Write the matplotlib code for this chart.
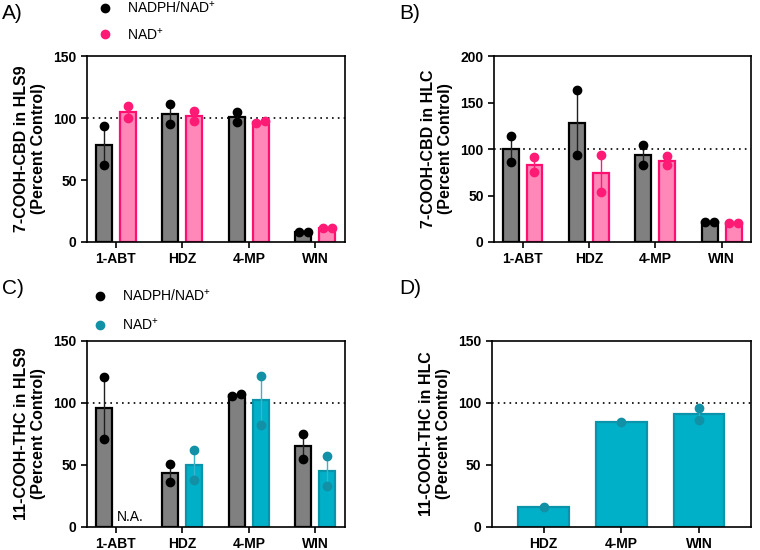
import numpy as np
import matplotlib
matplotlib.use("Agg")
import matplotlib.pyplot as plt
from matplotlib.lines import Line2D

plt.rcParams['font.family'] = ['Liberation Sans', 'DejaVu Sans']
plt.rcParams['mathtext.default'] = 'regular'

# Data (percent of control, two replicates each)
cats_abcd = ["1-ABT", "HDZ", "4-MP", "WIN"]
cats_d = ["HDZ", "4-MP", "WIN"]

a_nadph = [[94, 62], [111, 95], [105, 97], [8, 8]]
a_nad = [[110, 100], [106, 98], [96, 98], [11, 11]]
b_nadph = [[114, 86], [163, 94], [104, 83], [21, 21]]
b_nad = [[91, 75], [94, 54], [92, 83], [20, 20]]
c_nadph = [[121, 71], [51, 36], [106, 107], [75, 55]]
c_nad = [None, [62, 38], [122, 82], [57, 33]]
d_nad = [[16], [85], [96, 86]]

# styles
GRAY = dict(fill="#808080", edge="#000000", pt="#000000", err="#202020")
PINK = dict(fill="#FF88B8", edge="#FF1070", pt="#FF1A75", err="#FF1A75")
TEAL = dict(fill="#00B0C8", edge="#0A94AC", pt="#1290A6", err="#3AB4C8")


def draw_series(ax, x, reps, st, width, span):
    for xi, r in zip(x, reps):
        if r is None:
            continue
        r = np.array(r, dtype=float)
        m = r.mean()
        ax.bar(xi, m, width=width, color=st["fill"], edgecolor=st["edge"],
               linewidth=1.6, zorder=2)
        if len(r) > 1:
            sem = r.std(ddof=1) / np.sqrt(len(r))
            ax.errorbar(xi, m, yerr=sem, color=st["err"], lw=1.0,
                        capsize=3, capthick=1.0, zorder=3)
        xs = np.full(len(r), xi)
        if len(r) == 2 and abs(r[0] - r[1]) < 0.03 * span:
            xs = xi + np.array([-0.065, 0.065]) * width / 0.24
        ax.plot(xs, r, "o", color=st["pt"], ms=6, zorder=4)


def style_ax(ax, ymax, yticks, cats, ylabel, xlim):
    ax.set_ylim(0, ymax)
    ax.set_yticks(yticks)
    ax.set_xlim(*xlim)
    ax.set_xticks(range(len(cats)))
    ax.set_xticklabels(cats, fontweight="bold", fontsize=10)
    for lab in ax.get_yticklabels():
        lab.set_fontweight("bold")
        lab.set_fontsize(10)
    for s in ax.spines.values():
        s.set_linewidth(1.2)
    ax.tick_params(width=1.2, length=4)
    ax.axhline(100, color="black", ls=(0, (1, 2.5)), lw=1.2, zorder=1)
    ax.set_ylabel(ylabel, fontweight="bold", fontsize=11.5, labelpad=5)


fig = plt.figure(figsize=(7.6, 5.5), dpi=100)
axA = fig.add_axes([0.1145, 0.56, 0.339, 0.338])
axB = fig.add_axes([0.650, 0.56, 0.338, 0.338])
axC = fig.add_axes([0.1145, 0.042, 0.339, 0.338])
axD = fig.add_axes([0.647, 0.042, 0.341, 0.338])

x4 = np.arange(4)
off, w = 0.18, 0.24
draw_series(axA, x4 - off, a_nadph, GRAY, w, 150)
draw_series(axA, x4 + off, a_nad, PINK, w, 150)
style_ax(axA, 150, [0, 50, 100, 150], cats_abcd,
         "7-COOH-CBD in HLS9\n(Percent Control)", (-0.43, 3.44))

draw_series(axB, x4 - off, b_nadph, GRAY, w, 200)
draw_series(axB, x4 + off, b_nad, PINK, w, 200)
style_ax(axB, 200, [0, 50, 100, 150, 200], cats_abcd,
         "7-COOH-CBD in HLC\n(Percent Control)", (-0.43, 3.44))

draw_series(axC, x4 - off, c_nadph, GRAY, w, 150)
draw_series(axC, x4 + off, c_nad, TEAL, w, 150)
style_ax(axC, 150, [0, 50, 100, 150], cats_abcd,
         "11-COOH-THC in HLS9\n(Percent Control)", (-0.43, 3.44))
axC.text(0 + off + 0.04, 2, "N.A.", ha="center", va="bottom", fontsize=10)

x3 = np.arange(3)
draw_series(axD, x3, d_nad, TEAL, 0.65, 150)
style_ax(axD, 150, [0, 50, 100, 150], cats_d,
         "11-COOH-THC in HLC\n(Percent Control)", (-0.67, 2.67))

# legends
for ax, st, lsp, bpad in [(axA, PINK, 0.75, 0.6), (axC, TEAL, 0.95, 0.2)]:
    handles = [Line2D([], [], ls="", marker="o", color="black", ms=6),
               Line2D([], [], ls="", marker="o", color=st["pt"], ms=6)]
    ax.legend(handles, ["NADPH/NAD$^{+}$", "NAD$^{+}$"], loc="lower left",
              bbox_to_anchor=(-0.01, 1.0), frameon=False, fontsize=10,
              handlelength=1.0, handletextpad=1.1, labelspacing=lsp,
              borderaxespad=bpad)

# panel labels
for lab, x, y in [("A)", 0.003, 0.975), ("B)", 0.525, 0.975),
                  ("C)", 0.003, 0.475), ("D)", 0.525, 0.475)]:
    fig.text(x, y, lab, fontsize=15, va="center", ha="left")

fig.savefig("out.png", dpi=100)
